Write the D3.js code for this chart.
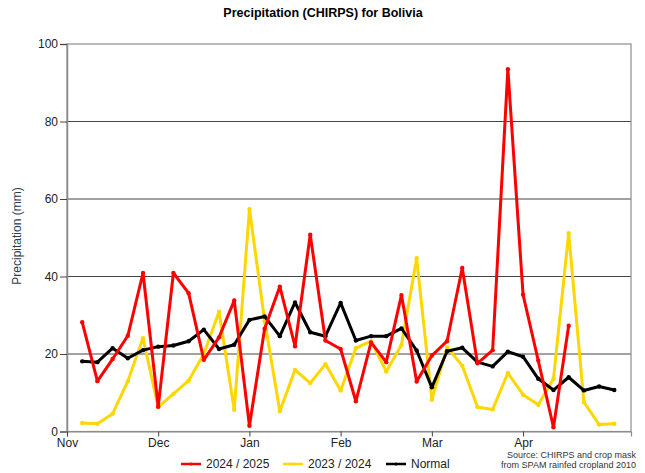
<!DOCTYPE html>
<html>
<head>
<meta charset="utf-8">
<script src="https://cdn.jsdelivr.net/npm/d3@7/dist/d3.min.js"></script>
<style>
    body { margin: 0; background: #fff; }
    svg { font-family: "Liberation Sans", Arial, sans-serif; }
</style>
</head>
<body>
<script>
"use strict";
// pentad values (6 per month), starting Nov pentad 1
const season2425 = [28.2, 13.0, 18.7, 24.7, 40.9, 6.4, 40.9, 35.7, 18.5, 24.3, 33.8, 1.5,
    26.5, 37.4, 22.0, 50.8, 23.5, 21.3, 7.8, 23.0, 17.9, 35.2, 12.9, 19.6,
    23.3, 42.2, 17.6, 21.0, 93.5, 35.3, 18.3, 1.1, 27.3]
const season2324 = [2.2, 2.0, 4.6, 13.0, 24.1, 6.3, 9.7, 13.1, 20.0, 30.9, 5.6, 57.4,
    28.6, 5.2, 15.9, 12.5, 17.4, 10.6, 21.5, 23.3, 15.5, 22.3, 44.7, 8.2,
    21.7, 17.0, 6.3, 5.7, 15.1, 9.5, 6.9, 13.6, 51.2, 7.6, 1.8, 2.0]
const normal = [18.1, 17.9, 21.5, 18.9, 21.0, 21.9, 22.2, 23.3, 26.3, 21.3, 22.4, 28.8,
    29.7, 24.6, 33.3, 25.6, 24.6, 33.2, 23.5, 24.6, 24.6, 26.6, 20.9, 11.4,
    20.7, 21.6, 17.9, 16.8, 20.6, 19.3, 13.6, 10.7, 14.0, 10.6, 11.6, 10.7]
const monthLabels = ["Nov", "Dec", "Jan", "Feb", "Mar", "Apr"]
const yTicks = [0, 20, 40, 60, 80, 100]

const series = [
    { name: "2024 / 2025", values: season2425, color: "#ff0000" },
    { name: "2023 / 2024", values: season2324, color: "#ffd700" },
    { name: "Normal", values: normal, color: "#000000" }
]

const width = 645, height = 473
const plot = { left: 67, right: 631, top: 44, bottom: 431.5 }

const svg = d3.select("body").append("svg")
    .attr("width", width)
    .attr("height", height)

const x = d3.scaleLinear().domain([0, 37.1]).range([plot.left, plot.right])
const y = d3.scaleLinear().domain([0, 100]).range([plot.bottom, plot.top])

// title
svg.append("text")
    .attr("x", 323).attr("y", 17)
    .attr("text-anchor", "middle")
    .attr("font-size", 12.5).attr("font-weight", "bold")
    .text("Precipitation (CHIRPS) for Bolivia")

// gridlines
svg.append("g").selectAll("line")
    .data(yTicks.filter(d => d > 0 && d < 100))
    .enter().append("line")
    .attr("x1", plot.left).attr("x2", plot.right)
    .attr("y1", d => y(d)).attr("y2", d => y(d))
    .attr("stroke", "#444").attr("stroke-width", 1)

// frame
svg.append("rect")
    .attr("x", plot.left).attr("y", plot.top)
    .attr("width", plot.right - plot.left).attr("height", plot.bottom - plot.top)
    .attr("fill", "none").attr("stroke", "#8c8c8c").attr("stroke-width", 1.2)

// y axis
const yAxis = d3.axisLeft(y).tickValues(yTicks).tickSize(7).tickPadding(2)
const gy = svg.append("g").attr("transform", `translate(${plot.left},0)`).call(yAxis)
gy.select(".domain").attr("stroke", "#8c8c8c").attr("stroke-width", 1.5)
gy.selectAll(".tick line").attr("stroke", "#444")
gy.selectAll("text").attr("font-size", 12).attr("fill", "#222")
    .attr("font-family", "Liberation Sans, Arial, sans-serif")

// x axis
const xAxis = d3.axisBottom(x)
    .tickValues(monthLabels.map((m, i) => i * 6))
    .tickFormat((d, i) => monthLabels[i])
    .tickSize(5).tickPadding(2)
const gx = svg.append("g").attr("transform", `translate(0,${plot.bottom})`).call(xAxis)
gx.select(".domain").attr("stroke", "#8c8c8c").attr("stroke-width", 1.2)
gx.selectAll(".tick line").attr("stroke", "#444")
gx.selectAll("text").attr("font-size", 12).attr("fill", "#222")
    .attr("font-family", "Liberation Sans, Arial, sans-serif")

// y title
svg.append("text")
    .attr("transform", "translate(21,236) rotate(-90)")
    .attr("text-anchor", "middle")
    .attr("font-size", 12).attr("fill", "#2b3a55")
    .text("Precipitation (mm)")

// lines, drawn back to front
const line = d3.line()
    .x((d, i) => x(i + 1))
    .y(d => y(d))

const drawOrder = [series[1], series[2], series[0]]
drawOrder.forEach(s => {
    svg.append("path")
        .datum(s.values)
        .attr("d", line)
        .attr("fill", "none")
        .attr("stroke", s.color)
        .attr("stroke-width", 3)
        .attr("stroke-linejoin", "round")
    svg.append("g").selectAll("circle")
        .data(s.values)
        .enter().append("circle")
        .attr("cx", (d, i) => x(i + 1))
        .attr("cy", d => y(d))
        .attr("r", 2.2)
        .attr("fill", s.color)
})

// legend
const legendX = [181, 283, 386]
const legend = svg.append("g").selectAll("g")
    .data(series)
    .enter().append("g")
    .attr("transform", (d, i) => `translate(${legendX[i]},464)`)
legend.append("line")
    .attr("x1", 0).attr("x2", 20)
    .attr("stroke", d => d.color).attr("stroke-width", 2.5)
legend.append("circle")
    .attr("cx", 10).attr("r", 1.5)
    .attr("fill", d => d.color)
legend.append("text")
    .attr("x", 25).attr("y", 4)
    .attr("font-size", 12).attr("fill", "#222")
    .text(d => d.name)

// source note
svg.append("text")
    .attr("x", 636).attr("y", 458)
    .attr("text-anchor", "end")
    .attr("font-size", 9).attr("fill", "#333")
    .text("Source: CHIRPS and crop mask")
svg.append("text")
    .attr("x", 636).attr("y", 468)
    .attr("text-anchor", "end")
    .attr("font-size", 9).attr("fill", "#333")
    .text("from SPAM rainfed cropland 2010")
</script>
</body>
</html>
